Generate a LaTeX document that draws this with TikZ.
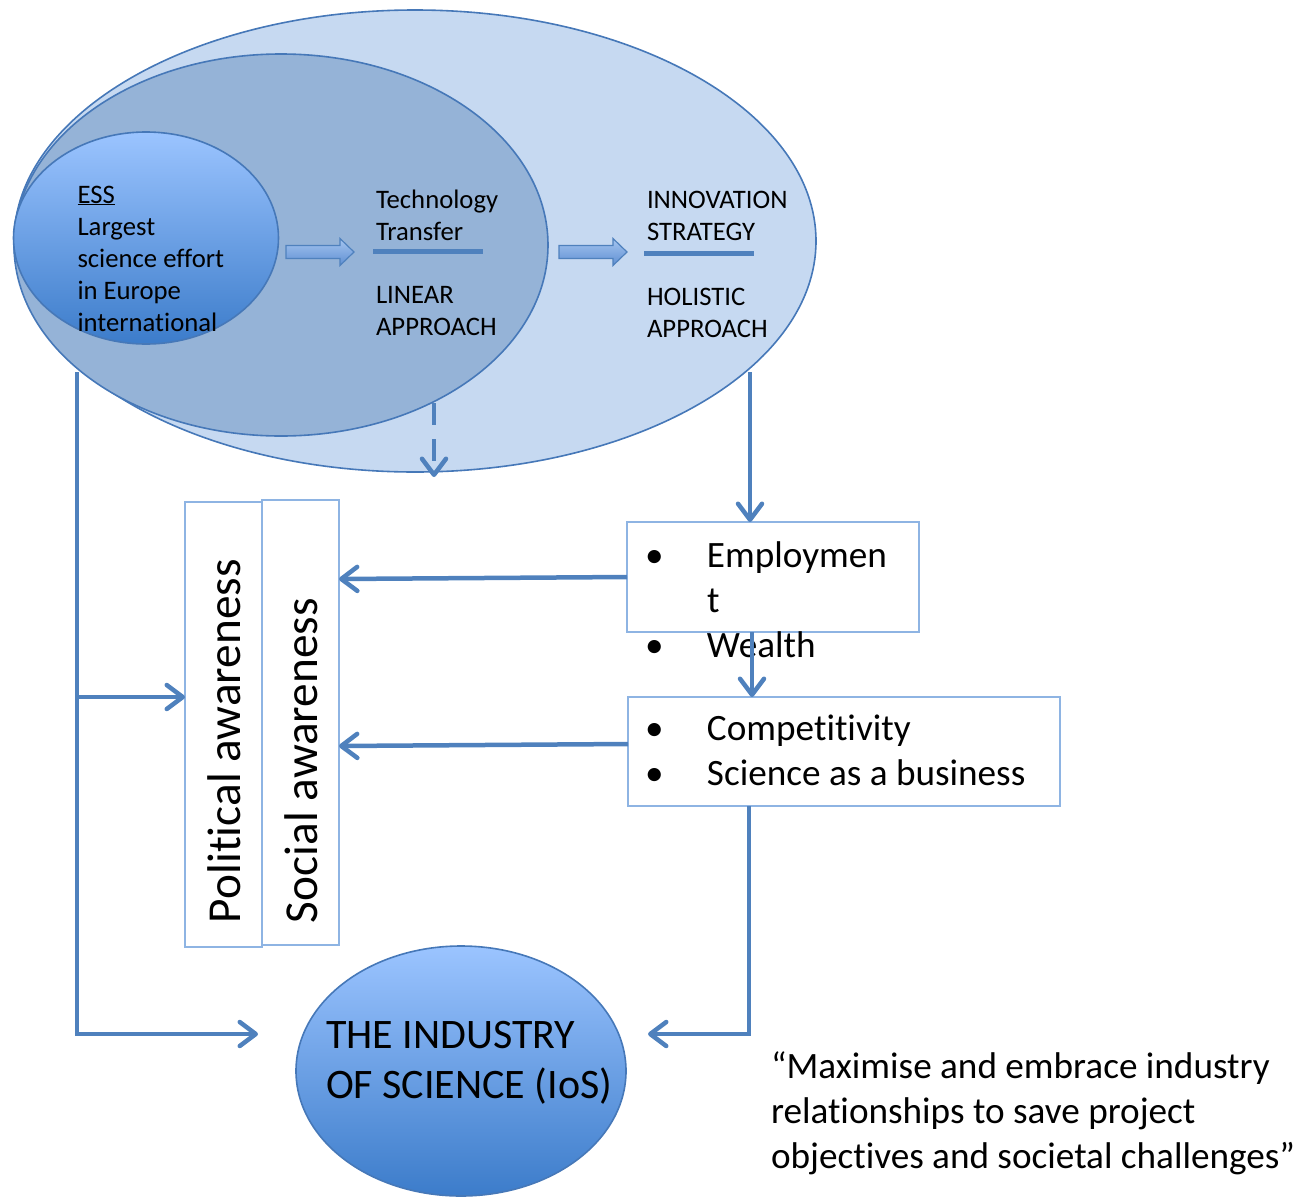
\documentclass[tikz,border=0pt]{standalone}
\usepackage{fontspec}
\setmainfont{Carlito}[RawFeature={-liga;-clig;-dlig;-calt;-hlig}]
\usetikzlibrary{shapes.geometric,arrows.meta,calc}
\definecolor{conncol}{RGB}{79,129,189}
\definecolor{edgecol}{RGB}{70,120,184}
\definecolor{outerfill}{RGB}{198,217,241}
\definecolor{midfill}{RGB}{149,179,215}
\definecolor{gradtop}{RGB}{155,196,255}
\definecolor{gradbot}{RGB}{60,124,202}
\definecolor{boxedge}{RGB}{142,180,227}
\definecolor{arrtop}{RGB}{165,197,240}
\definecolor{arrbot}{RGB}{95,143,210}
\begin{document}
\begin{tikzpicture}[x=1pt,y=-1pt,
  every node/.style={inner sep=0pt, outer sep=0pt},
  blob/.style={ellipse, draw=edgecol, line width=1.6pt},
  gradblob/.style={blob, top color=gradtop, bottom color=gradbot},
  conn/.style={draw=conncol, line width=4.5pt, line join=miter, -{Straight Barb[length=16pt,width=24pt,line cap=round,line join=round]}},
  listbox/.style={rectangle, draw=boxedge, line width=2pt, fill=white},
  blockarrow/.style={draw=conncol, line width=1.2pt, top color=arrtop, bottom color=arrbot},
  smalltext/.style={anchor=north west, align=left, font=\fontsize{26.7pt}{32.2pt}\selectfont},
  listtext/.style={anchor=north west, align=left, font=\fontsize{37.2pt}{45pt}\selectfont},
  bigtext/.style={anchor=north west, align=left, font=\fontsize{42pt}{50pt}\selectfont},
  vertext/.style={anchor=base west, rotate=90, font=\fontsize{47.3pt}{57pt}\selectfont},
  bar/.style={fill=conncol, draw=none}
]
\useasboundingbox (0,0) rectangle (1301,1197);

% nested ellipses
\node[blob, fill=outerfill, minimum width=802pt, minimum height=462pt] (outer) at (415,241) {};
\node[blob, fill=midfill, minimum width=534pt, minimum height=382pt] (middle) at (281,245) {};
\node[gradblob, minimum width=265pt, minimum height=212pt] (ess) at (146,238) {};

% texts inside ellipses
\node[smalltext] (esstext) at (77.5,180.5) {\strut\underline{ESS}\\Largest\\science effort\\in Europe\\international};
\node[smalltext] (tt) at (376,185.5) {\strut Technology\\Transfer};
\node[smalltext] (lin) at (376,280.5) {\strut LINEAR\\APPROACH};
\node[smalltext] (inno) at (647,185.5) {\strut INNOVATION\\STRATEGY};
\node[smalltext] (hol) at (647,282.5) {\strut HOLISTIC\\APPROACH};

% underline bars
\path[bar] (373,248.5) rectangle (483,253.5);
\path[bar] (644,250.5) rectangle (754,255.5);

% block arrows
\path[blockarrow] (286,245.5) -- (340,245.5) -- (340,238.5) -- (354,252) -- (340,265.5) -- (340,258.5) -- (286,258.5) -- cycle;
\path[blockarrow] (559,245.5) -- (613,245.5) -- (613,238.5) -- (627,252) -- (613,265.5) -- (613,258.5) -- (559,258.5) -- cycle;

% awareness boxes
\node[listbox, minimum width=77pt, minimum height=445pt] (pol) at (223.5,724.5) {};
\node[listbox, minimum width=77pt, minimum height=445pt] (soc) at (300.5,722.5) {};
\node[vertext] (poltext) at (240,923) {Political awareness};
\node[vertext] (soctext) at (317,923) {Social awareness};

% right boxes
\node[listbox, minimum width=292pt, minimum height=110pt] (emp) at (773,577) {};
\node[listbox, minimum width=432pt, minimum height=109pt] (comp) at (844,751.5) {};
\node[listtext] (emptext) at (645,535.5) {\strut\makebox[62pt][l]{\textbullet}Employmen\\\hspace*{62pt}t\\\makebox[62pt][l]{\textbullet}Wealth};
\node[listtext] (comptext) at (645,708.5) {\strut\makebox[62pt][l]{\textbullet}Competitivity\\\makebox[62pt][l]{\textbullet}Science as a business};

% industry of science
\node[gradblob, minimum width=330pt, minimum height=250pt] (ios) at (461,1071) {};
\node[bigtext] (iostext) at (326,1013) {\strut THE INDUSTRY\\OF SCIENCE (IoS)};

% quote
\node[listtext] (quote) at (771,1046.5) {\strut “Maximise and embrace industry\\relationships to save project\\objectives and societal challenges”};

% connector end points
\coordinate (lstart) at (77,372);
\coordinate (lbranch) at (77,697);
\coordinate (rstart) at (750,372);
\coordinate (dstart) at (434,403);
\coordinate (dend) at (434,477);
\coordinate (iosL) at ([xshift=-38pt,yshift=37pt]ios.west);
\coordinate (iosR) at ([xshift=22pt,yshift=37pt]ios.east);

% connectors
\draw[conn] (lstart) |- (iosL);
\draw[conn] (lbranch) -- (lbranch -| pol.west);
\draw[conn, dash pattern=on 22pt off 14pt] (dstart) -- (dend);
\draw[conn] (rstart) -- ([xshift=123pt]emp.north west);
\draw[conn] (emp.west) -- ($(soc.east)+(0,-143.5)$);
\draw[conn] ([xshift=125pt]emp.south west) -- ([xshift=124pt]comp.north west);
\draw[conn] ([yshift=7.5pt]comp.west) -- ($(soc.east)+(0,23.5)$);
\draw[conn] ([xshift=121pt]comp.south west) |- (iosR);
\end{tikzpicture}
\end{document}
